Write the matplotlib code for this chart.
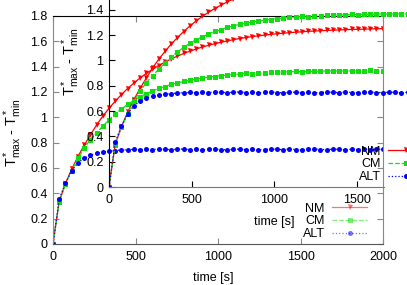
import matplotlib
matplotlib.use("Agg")
import matplotlib.pyplot as plt
from matplotlib.lines import Line2D
from matplotlib.ticker import FormatStrFormatter

plt.rcParams['font.family'] = ['Liberation Sans', 'DejaVu Sans']
plt.rcParams['mathtext.fontset'] = 'custom'
plt.rcParams['mathtext.rm'] = 'Liberation Sans'
plt.rcParams['mathtext.it'] = 'Liberation Sans:italic'
plt.rcParams['font.size'] = 9

# time [s]
time_s = [0, 38, 75, 113, 151, 189, 226, 264, 302, 339, 377, 415, 452, 490, 528, 566,
          603, 641, 679, 716, 754, 792, 829, 867, 905, 943, 980, 1018, 1056, 1093, 1131,
          1169, 1206, 1244, 1282, 1320, 1357, 1395, 1433, 1470, 1508, 1546, 1583, 1621,
          1659, 1697, 1734, 1772, 1810, 1847, 1885, 1923, 1960, 1998]

nm = [0, 0.34, 0.475, 0.59, 0.69, 0.78, 0.86, 0.94, 1.01, 1.07, 1.128, 1.18, 1.227,
      1.271, 1.311, 1.347, 1.379, 1.409, 1.436, 1.461, 1.483, 1.504, 1.522, 1.539,
      1.555, 1.569, 1.581, 1.593, 1.603, 1.613, 1.622, 1.630, 1.637, 1.643, 1.649,
      1.655, 1.660, 1.664, 1.668, 1.672, 1.675, 1.679, 1.681, 1.684, 1.686, 1.688,
      1.690, 1.692, 1.694, 1.695, 1.696, 1.698, 1.699, 1.700]

cm = [0, 0.335, 0.47, 0.58, 0.678, 0.755, 0.825, 0.88, 0.93, 0.98, 1.027, 1.067, 1.102,
      1.134, 1.162, 1.187, 1.207, 1.228, 1.243, 1.26, 1.271, 1.284, 1.292, 1.303,
      1.309, 1.318, 1.322, 1.330, 1.333, 1.339, 1.341, 1.347, 1.346, 1.352, 1.351,
      1.357, 1.355, 1.360, 1.358, 1.363, 1.360, 1.365, 1.362, 1.367, 1.364, 1.368,
      1.363, 1.369, 1.365, 1.368, 1.364, 1.370, 1.366, 1.368]

alt = [0, 0.355, 0.48, 0.58, 0.64, 0.677, 0.70, 0.716, 0.726, 0.733, 0.738, 0.742,
       0.744, 0.747, 0.745, 0.748, 0.746, 0.749, 0.747, 0.745, 0.748, 0.750, 0.746,
       0.748, 0.744, 0.747, 0.749, 0.746, 0.743, 0.747, 0.749, 0.745, 0.748, 0.744,
       0.746, 0.750, 0.747, 0.745, 0.749, 0.746, 0.744, 0.748, 0.750, 0.746, 0.745,
       0.749, 0.747, 0.744, 0.748, 0.746, 0.750, 0.745, 0.747, 0.749]

labels = ['NM', 'CM', 'ALT']
series = [nm, cm, alt]
colors = ['#ff0000', '#11dd11', '#0000ff']
styles = ['-', '--', ':']
markers = ['v', 's', 'o']

xticks = [0, 500, 1000, 1500, 2000]
yticks = [0, 0.2, 0.4, 0.6, 0.8, 1.0, 1.2, 1.4, 1.6, 1.8]

W, H = 407, 285
fig = plt.figure(figsize=(W / 100, H / 100), dpi=100)


def make_axes(left, top, legend_alpha):
    ax = fig.add_axes([left / W, (H - top - 228) / H, 330 / W, 228 / H])
    ax.patch.set_visible(False)
    for y, lab, c, ls, m in zip(series, labels, colors, styles, markers):
        ax.plot(time_s, y, color=c, ls=ls, lw=0.9, marker=m, ms=3.6, mew=0)
    ax.set_xlim(0, 2000)
    ax.set_ylim(0, 1.8)
    ax.set_xticks(xticks)
    ax.set_yticks(yticks)
    ax.yaxis.set_major_formatter(FormatStrFormatter('%g'))
    ax.tick_params(direction='in', length=4, top=True, right=True, width=0.8)
    ax.tick_params(axis='y', pad=4)
    ax.tick_params(axis='x', pad=5)
    ax.set_xlabel('time [s]')
    ax.set_ylabel(r'T$^*_{\rm max}$ - T$^*_{\rm min}$', fontsize=10.5)
    hs = [Line2D([], [], color=c, ls=ls, lw=0.9, marker=m, ms=3.6, mew=0,
                 alpha=legend_alpha)
          for c, ls, m in zip(colors, styles, markers)]
    # key anchored by its lower right corner, in pixels of the figure
    fig.legend(hs, labels, loc='lower right',
               bbox_to_anchor=((left + 314) / W, (H - top - 224) / H),
               bbox_transform=fig.transFigure,
               frameon=False, markerfirst=False, handlelength=2.8,
               handletextpad=0.6, labelspacing=0.05, borderpad=0,
               borderaxespad=0)
    return ax


main = make_axes(53, 16, 0.55)
for s in ['left', 'right', 'bottom']:
    main.spines[s].set_color('#888888')
main.spines['bottom'].set_color('#555555')
main.tick_params(color='#888888')
main.yaxis.set_label_coords(-0.088, 0.49)
main.xaxis.set_label_coords(0.485, -0.125)

inset = make_axes(109, -41, 1.0)
inset.spines['bottom'].set_color('#777777')
inset.spines['bottom'].set_bounds(0, 1667)
# the upper part of the inset lies above the picture
inset.set_xticks([0, 500, 1000, 1500])
inset.set_yticks(yticks[:8])
inset.yaxis.set_label_coords(-0.082, 0.55)
inset.xaxis.set_label_coords(0.5, -0.125)

fig.savefig('out.png', dpi=100)
